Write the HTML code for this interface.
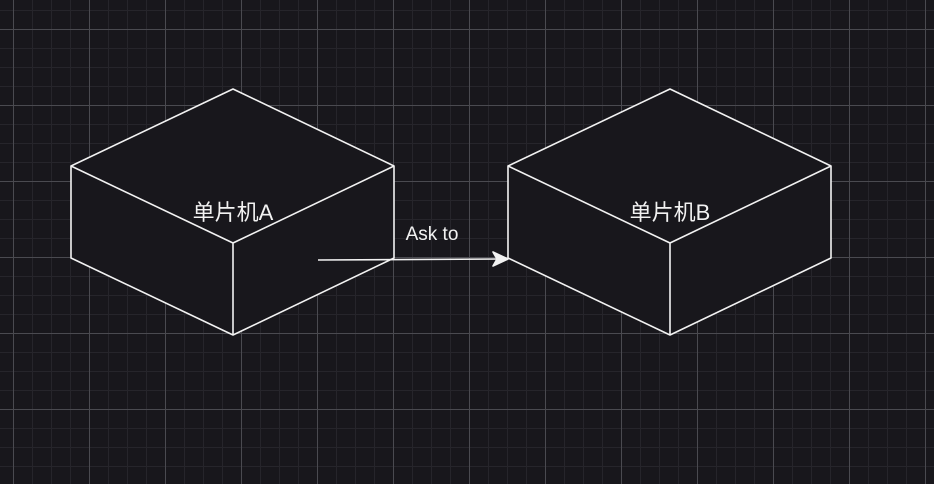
<!DOCTYPE html>
<html><head><meta charset="utf-8"><style>
html,body{margin:0;padding:0;background:#18171c;}
svg{display:block}
</style></head><body>
<svg width="934" height="484" xmlns="http://www.w3.org/2000/svg">
<defs>
<pattern id="minor" x="13" y="10" width="19" height="19" patternUnits="userSpaceOnUse">
<path d="M0.5 0V19M0 0.5H19" stroke="#26252b" stroke-width="1" fill="none"/>
</pattern>
<pattern id="major" x="13" y="29" width="76" height="76" patternUnits="userSpaceOnUse">
<path d="M0.5 0V76M0 0.5H76" stroke="#4a4a50" stroke-width="1" fill="none"/>
</pattern>
</defs>
<rect width="934" height="484" fill="#18171c"/>
<rect width="934" height="484" fill="url(#minor)"/>
<rect width="934" height="484" fill="url(#major)"/>
<g stroke="#f2f2f2" stroke-width="1.6" fill="#18171c" stroke-linejoin="round">
<path d="M233 89 L394 166 L394 258 L233 335 L71 258 L71 166 Z"/>
<path d="M71 166 L233 243 L394 166 M233 243 L233 335" fill="none"/>
<path d="M670 89 L831 166 L831 258 L670 335 L508 258 L508 166 Z"/>
<path d="M508 166 L670 243 L831 166 M670 243 L670 335" fill="none"/>
<path d="M318 260 L500 259" fill="none"/>
<path d="M508 259 L493 252 L497 259 L493 266 Z" fill="#f2f2f2"/>
</g>
<g fill="#f2f2f2" font-family="Liberation Sans, Noto Sans CJK SC, sans-serif" text-anchor="middle">
<text x="233" y="220" font-size="22">单片机A</text>
<text x="670" y="220" font-size="22">单片机B</text>
<text x="432" y="240" font-size="19">Ask to</text>
</g>
</svg>
</body></html>
